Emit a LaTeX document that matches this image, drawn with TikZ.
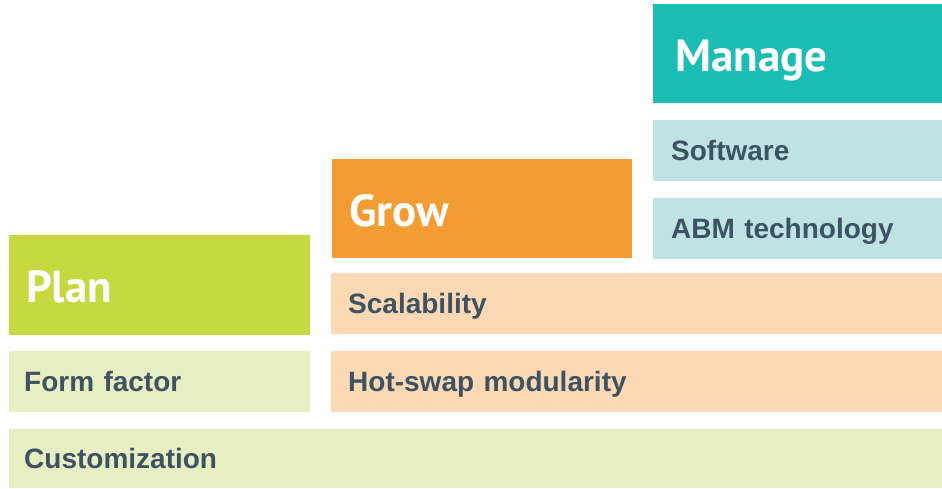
\documentclass[tikz,border=0pt]{standalone}
\usepackage{fontspec}
\setmainfont{Liberation Sans}
\newfontfamily\headfont{PT Sans}
\usetikzlibrary{positioning}

\definecolor{teal1}{HTML}{1BBDB5}
\definecolor{teal2}{HTML}{BFE2E2}
\definecolor{orange1}{HTML}{F49C34}
\definecolor{orange2}{HTML}{FCD8B4}
\definecolor{lime1}{HTML}{C8D840}
\definecolor{lime2}{HTML}{E7EEC2}
\definecolor{slate}{HTML}{3E5362}

\tikzset{
  cell/.style={anchor=north west, inner xsep=17pt, inner ysep=0pt, align=left,
    text height=19.5pt, text depth=0pt,
    text=slate, font=\fontsize{28}{30}\selectfont\bfseries},
  head/.style={cell, text=white, text height=35.5pt, text depth=0pt,
    font=\fontsize{45}{48}\selectfont\headfont\bfseries}
}

\begin{document}
\begin{tikzpicture}[x=1pt,y=-1pt]
\useasboundingbox (0,0) rectangle (942,488);

% Manage column
\node[head, fill=teal1, text width=255pt, minimum height=99pt, inner xsep=22pt] (manage) at (653,4) {Manage};
\node[cell, fill=teal2, text width=253pt, minimum height=61pt, inner xsep=18pt] (software) at (653,120) {Software};
\node[cell, fill=teal2, text width=253pt, minimum height=61pt, inner xsep=18pt] (abm) at (653,198) {ABM technology};

% Grow column
\node[head, fill=orange1, text width=266pt, minimum height=99pt] (grow) at (332,159) {Grow};
\node[cell, fill=orange2, text width=577pt, minimum height=61pt] (scal) at (331,273) {Scalability};
\node[cell, fill=orange2, text width=577pt, minimum height=61pt] (hotswap) at (331,351) {Hot-swap modularity};

% Plan column
\node[head, fill=lime1, text width=267pt, minimum height=100pt] (plan) at (9,235) {Plan};
\node[cell, fill=lime2, text width=271pt, minimum height=61pt, inner xsep=15pt] (form) at (9,351) {Form factor};
\node[cell, fill=lime2, text width=903pt, minimum height=59pt, inner xsep=15pt] (custom) at (9,429) {Customization};
\end{tikzpicture}
\end{document}
